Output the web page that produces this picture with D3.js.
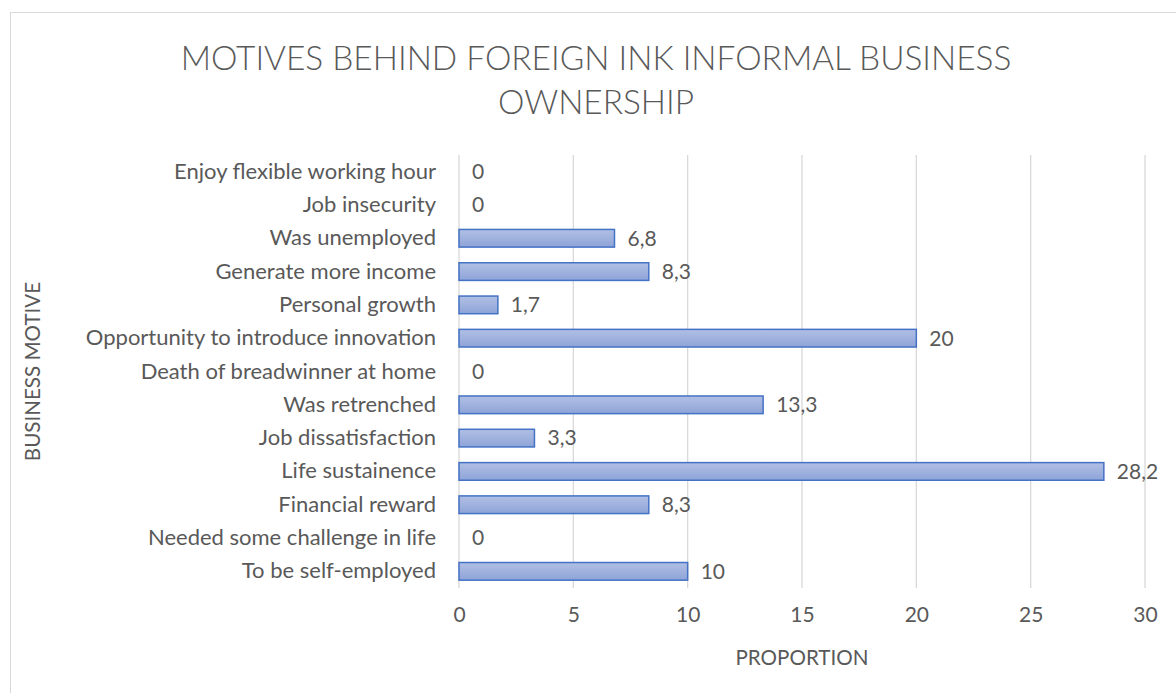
<!DOCTYPE html>
<html>
<head>
<meta charset="utf-8">
<script src="https://cdn.jsdelivr.net/npm/d3@7"></script>
<style>
  html, body { margin: 0; padding: 0; background: #fff; }
  svg { display: block; font-family: Lato, "Open Sans", sans-serif; }
</style>
</head>
<body>
<svg id="chart" width="1176" height="693"></svg>
<script>
// Business motives, listed top to bottom
const motives = [
  "Enjoy flexible working hour",
  "Job insecurity",
  "Was unemployed",
  "Generate more income",
  "Personal growth",
  "Opportunity to introduce innovation",
  "Death of breadwinner at home",
  "Was retrenched",
  "Job dissatisfaction",
  "Life sustainence",
  "Financial reward",
  "Needed some challenge in life",
  "To be self-employed"
];
const proportions = [0, 0, 6.8, 8.3, 1.7, 20, 0, 13.3, 3.3, 28.2, 8.3, 0, 10];
const xTicks = [0, 5, 10, 15, 20, 25, 30];

const svg = d3.select("#chart");
const W = 1176, H = 693;
const margin = { left: 459, right: 31, top: 155, bottom: 105 };
const labelSize = 22;
const valueSize = 21;
const axisTitleSize = 20.6;

// outer chart frame
svg.append("rect")
  .attr("x", 10.5).attr("y", 12.5)
  .attr("width", W).attr("height", H)
  .attr("fill", "#fff").attr("stroke", "#d9d9d9").attr("stroke-width", 1);

const defs = svg.append("defs");
const grad = defs.append("linearGradient")
  .attr("id", "barFill").attr("x1", 0).attr("y1", 0).attr("x2", 0).attr("y2", 1);
grad.append("stop").attr("offset", "0%").attr("stop-color", "#b1bfe4");
grad.append("stop").attr("offset", "100%").attr("stop-color", "#8ea4d8");

const x = d3.scaleLinear().domain([0, 30]).range([margin.left, W - margin.right]);
const y = d3.scaleBand().domain(motives).range([margin.top, H - margin.bottom]).paddingInner(0.47).paddingOuter(0.235);

// title
const title = svg.append("g").attr("fill", "#595959").attr("font-size", 33.4)
  .attr("font-weight", 300).attr("text-anchor", "middle");
title.append("text").attr("x", 596).attr("y", 70).text("MOTIVES BEHIND FOREIGN INK INFORMAL BUSINESS");
title.append("text").attr("x", 596).attr("y", 114).text("OWNERSHIP");

// vertical gridlines
svg.append("g")
  .selectAll("line").data(xTicks).join("line")
  .attr("x1", d => x(d)).attr("x2", d => x(d))
  .attr("y1", margin.top).attr("y2", H - margin.bottom)
  .attr("stroke", "#d9d9d9").attr("stroke-width", 1.3);

// x axis labels
const xAxis = svg.append("g")
  .attr("transform", `translate(0,${H - margin.bottom})`)
  .call(d3.axisBottom(x).tickValues(xTicks).tickSize(0).tickPadding(19));
xAxis.select(".domain").remove();
xAxis.selectAll("text").attr("fill", "#595959").attr("font-size", valueSize).attr("font-family", "Lato, sans-serif");

// y axis labels
const yAxis = svg.append("g")
  .attr("transform", `translate(${margin.left},0)`)
  .call(d3.axisLeft(y).tickSize(0).tickPadding(23));
yAxis.select(".domain").remove();
yAxis.selectAll("text").attr("fill", "#595959").attr("font-size", labelSize).attr("font-family", "Lato, sans-serif");

// bars
svg.append("g")
  .selectAll("rect").data(motives.filter((m, i) => proportions[i] > 0)).join("rect")
  .attr("x", x(0))
  .attr("y", d => y(d))
  .attr("width", d => x(proportions[motives.indexOf(d)]) - x(0))
  .attr("height", y.bandwidth())
  .attr("fill", "url(#barFill)")
  .attr("stroke", "#4472c4").attr("stroke-width", 1.5);

// value labels
svg.append("g")
  .selectAll("text").data(motives).join("text")
  .attr("x", (d, i) => x(proportions[i]) + 13)
  .attr("y", d => y(d) + y.bandwidth() / 2)
  .attr("dy", "0.35em")
  .attr("fill", "#595959").attr("font-size", valueSize)
  .text((d, i) => String(proportions[i]).replace(".", ","));

// axis titles
svg.append("text")
  .attr("x", x(15)).attr("y", 665)
  .attr("text-anchor", "middle").attr("fill", "#595959").attr("font-size", axisTitleSize)
  .text("PROPORTION");
svg.append("text")
  .attr("transform", `translate(40,${(margin.top + H - margin.bottom) / 2}) rotate(-90)`)
  .attr("text-anchor", "middle").attr("fill", "#595959").attr("font-size", axisTitleSize)
  .text("BUSINESS MOTIVE");
</script>
</body>
</html>
